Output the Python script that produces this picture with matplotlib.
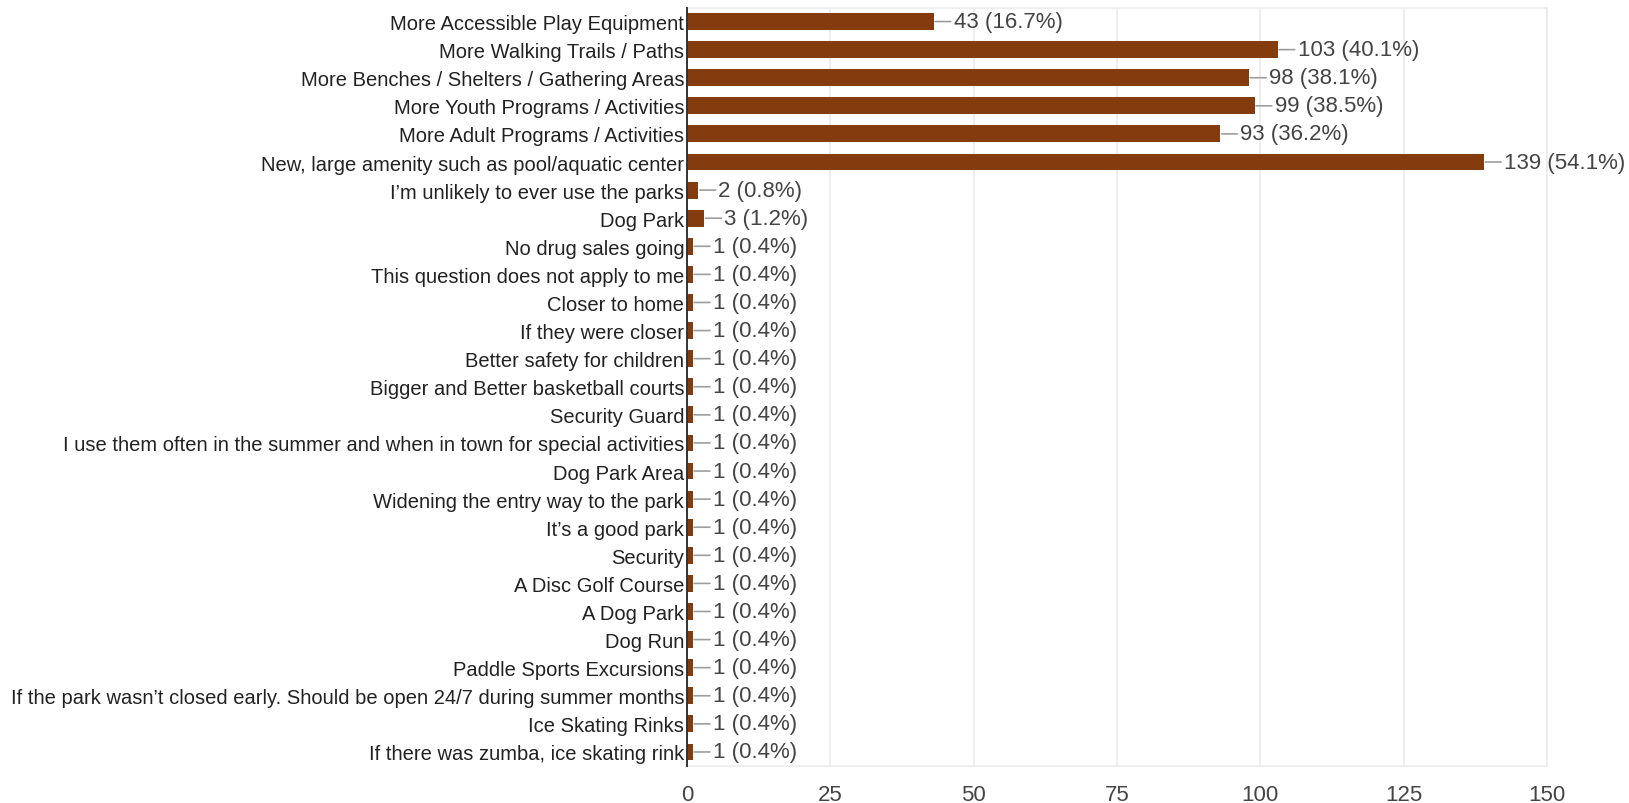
import matplotlib
matplotlib.use("Agg")
import matplotlib.pyplot as plt

categories = [
    "More Accessible Play Equipment",
    "More Walking Trails / Paths",
    "More Benches / Shelters / Gathering Areas",
    "More Youth Programs / Activities",
    "More Adult Programs / Activities",
    "New, large amenity such as pool/aquatic center",
    "I\u2019m unlikely to ever use the parks",
    "Dog Park",
    "No drug sales going",
    "This question does not apply to me",
    "Closer to home",
    "If they were closer",
    "Better safety for children",
    "Bigger and Better basketball courts",
    "Security Guard",
    "I use them often in the summer and when in town for special activities",
    "Dog Park Area",
    "Widening the entry way to the park",
    "It\u2019s a good park",
    "Security",
    "A Disc Golf Course",
    "A Dog Park",
    "Dog Run",
    "Paddle Sports Excursions",
    "If the park wasn\u2019t closed early. Should be open 24/7 during summer months",
    "Ice Skating Rinks",
    "If there was zumba, ice skating rink",
]
counts = [43, 103, 98, 99, 93, 139, 2, 3] + [1] * 19
percents = [16.7, 40.1, 38.1, 38.5, 36.2, 54.1, 0.8, 1.2] + [0.4] * 19
xticks = [0, 25, 50, 75, 100, 125, 150]

n = len(categories)

BAR = "#843B0E"
W, H = 1629, 804
fig = plt.figure(figsize=(W / 100, H / 100), dpi=100)
left, right = 687 / W, 1547 / W
bottom, top = 1 - 767 / H, 1 - 8.5 / H
ax = fig.add_axes([left, bottom, right - left, top - bottom])

font = ["Liberation Sans", "DejaVu Sans"]
ypos = list(range(n))
ax.barh(ypos, counts, height=0.6, color=BAR, zorder=3)

ax.set_xlim(0, 150)
ax.set_ylim(n - 0.5, -0.5)
ax.set_xticks(xticks)
ax.set_xticklabels([str(t) for t in xticks], family=font, fontsize=16, color="#444444")
ax.set_yticks(ypos)
ax.set_yticklabels(categories, family=font, fontsize=14.5, color="#222222")
ax.tick_params(axis="y", length=0, pad=2)
ax.tick_params(axis="x", length=0, pad=13)

ax.grid(axis="x", color="#ebebeb", lw=1.2, zorder=0)
for s in ["top", "bottom", "right"]:
    ax.spines[s].set_color("#ebebeb")
    ax.spines[s].set_linewidth(1.2)
ax.spines["left"].set_color("#333333")
ax.spines["left"].set_linewidth(1.4)
ax.spines["left"].set_zorder(4)

for i, (c, p) in enumerate(zip(counts, percents)):
    ax.annotate(f"{c} ({p:.1f}%)", xy=(c, i), xytext=(14.4, 0),
                textcoords="offset points", ha="left", va="center",
                family=font, fontsize=16, color="#444444",
                arrowprops=dict(arrowstyle="-", color="#9e9e9e", lw=1.2,
                                shrinkA=0, shrinkB=1),
                annotation_clip=False, zorder=5)

fig.savefig("out.png", dpi=100)
